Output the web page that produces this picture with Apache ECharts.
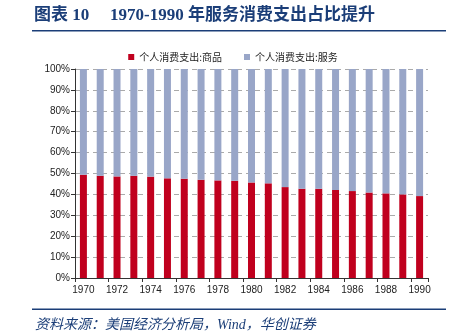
<!DOCTYPE html>
<html><head><meta charset="utf-8">
<script src="https://cdn.jsdelivr.net/npm/echarts@6/dist/echarts.min.js"></script>
<style>html,body{margin:0;padding:0;background:#fff;}#c{width:466px;height:335px;}</style>
</head><body><div id="c"></div>
<script>
const years = ['1970','1971','1972','1973','1974','1975','1976','1977','1978','1979','1980','1981','1982','1983','1984','1985','1986','1987','1988','1989','1990'];
const goods = [49.4,48.9,48.6,48.9,48.5,47.7,47.5,47.0,46.7,46.5,45.7,45.3,43.5,42.7,42.7,42.1,41.6,40.9,40.5,40.0,39.2];
const services = goods.map(v => +(100 - v).toFixed(1));
const yTicks = ['0%','10%','20%','30%','40%','50%','60%','70%','80%','90%','100%'];
const seriesNames = ['个人消费支出:商品','个人消费支出:服务'];
const navy = '#1B3E78';
const chart = echarts.init(document.getElementById('c'), null, {renderer:'canvas'});
chart.setOption({
  animation:false,
  backgroundColor:'#fff',
  grid:{left:75,right:38,top:69,bottom:57,containLabel:false},
  legend:{
    top:47,left:'center',itemWidth:6,itemHeight:6,itemGap:22,icon:'rect',
    textStyle:{fontSize:10,color:'#222',fontFamily:'Noto Sans CJK SC'},
    data:seriesNames
  },
  xAxis:{
    type:'category',data:years,
    axisLine:{lineStyle:{color:'#333',width:1}},
    axisTick:{show:true,interval:1,length:4,lineStyle:{color:'#333'}},
    axisLabel:{interval:1,fontSize:10,color:'#222',margin:7,fontFamily:'Liberation Sans'}
  },
  yAxis:{
    type:'value',min:0,max:100,interval:10,
    axisLine:{show:true,lineStyle:{color:'#333'}},
    axisTick:{show:true,length:4,lineStyle:{color:'#333'}},
    axisLabel:{fontSize:10,color:'#222',margin:5,fontFamily:'Liberation Sans',
      formatter:(v)=>yTicks[Math.round(v/10)]},
    splitLine:{show:true,lineStyle:{color:'#AAAAAA',type:[5,4],width:1}}
  },
  series:[
    {name:seriesNames[0],type:'bar',stack:'a',data:goods,barWidth:7,itemStyle:{color:'#C0001E'}},
    {name:seriesNames[1],type:'bar',stack:'a',data:services,barWidth:7,itemStyle:{color:'#99A6C8'}}
  ],
  graphic:[
    {type:'text',left:34,top:7,style:{text:'图表 10',font:'bold 17px "Liberation Serif","Noto Sans CJK SC"',fill:navy}},
    {type:'text',left:110,top:7,style:{text:'1970-1990 年服务消费支出占比提升',font:'bold 17px "Liberation Serif","Noto Sans CJK SC"',fill:navy}},
    {type:'rect',shape:{x:32,y:30,width:414,height:1.5},style:{fill:navy}},
    {type:'rect',shape:{x:32,y:308.5,width:414,height:1.5},style:{fill:navy}},
    {type:'text',left:35,top:318,style:{text:'资料来源：美国经济分析局，Wind，华创证券',font:'italic 14px "Liberation Serif","Noto Sans CJK SC"',fill:navy}}
  ]
});
</script></body></html>
